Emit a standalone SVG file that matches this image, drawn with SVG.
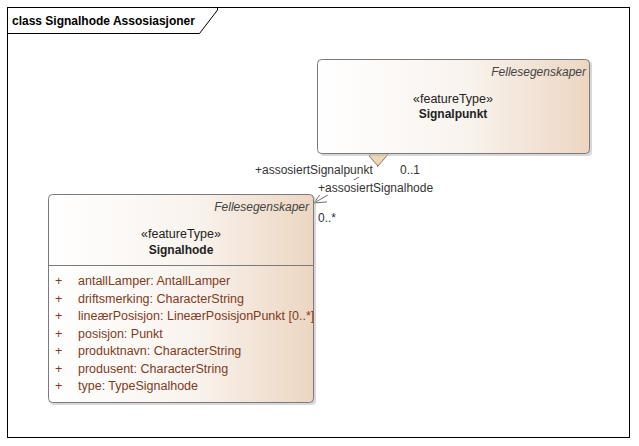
<svg xmlns="http://www.w3.org/2000/svg" width="639" height="446" viewBox="0 0 639 446">
<style>
text{font-family:"Liberation Sans",Arial,sans-serif;font-size:12px;fill:#333}
.title{font-weight:bold;fill:#000}
.ital{font-style:italic;fill:#444}
.stereo{font-size:12.5px;fill:#222}
.name{font-weight:bold;fill:#222}
.attr{font-size:12.5px;fill:#7f3b1d}
.box{fill:url(#g);stroke:#7a7a7a;stroke-width:1}
.shadow{fill:#b8b8b8;opacity:0.55}
.conn{fill:none;stroke:#6e6e6e;stroke-width:1}
.lbl{font-size:12px;fill:#333}
.lblbg{fill:#fff}
</style>
<defs>
<linearGradient id="g" x1="0" y1="0" x2="1" y2="0">
<stop offset="0" stop-color="#ffffff"/>
<stop offset="0.55" stop-color="#f9f3ee"/>
<stop offset="1" stop-color="#ecd6c2"/>
</linearGradient>
</defs>
<rect x="0" y="0" width="639" height="446" fill="#fff"/>
<g id="frame">
<rect x="7.5" y="7.5" width="622" height="430" fill="#fff" stroke="#000" stroke-width="1"/>
<polyline points="7.5,33.5 199.5,33.5 217.5,10 217.5,7.5" fill="none" stroke="#000" stroke-width="1"/>
<text x="12" y="25" class="title">class Signalhode Assosiasjoner</text>
</g>
<g id="connectors">
<line class="conn" x1="378" y1="166" x2="314" y2="203"/>
<polyline class="conn" points="321.5,192.4 314,203 327,201.9"/>
<rect class="lblbg" x="253" y="162" width="124" height="15"/>
<rect class="lblbg" x="316" y="180" width="120" height="15"/>
<text class="lbl" x="255" y="174">+assosiertSignalpunkt</text>
<text class="lbl" x="400" y="174">0..1</text>
<text class="lbl" x="318" y="192">+assosiertSignalhode</text>
<text class="lbl" x="318" y="222">0..*</text>
<polygon points="382,142 369,156 378,166 390,152" fill="#f1d6b4" stroke="#7a7a7a" stroke-width="1"/>
</g>
<g id="Signalpunkt">
<rect class="shadow" x="320" y="61" width="272" height="95" rx="4"/>
<rect class="box" x="317.5" y="59.5" width="272" height="94" rx="4"/>
<text class="ital" x="586" y="76" text-anchor="end">Fellesegenskaper</text>
<text class="stereo" x="453" y="103" text-anchor="middle">«featureType»</text>
<text class="name" x="453" y="118" text-anchor="middle">Signalpunkt</text>
</g>
<g id="Signalhode">
<rect class="shadow" x="50" y="196" width="266" height="209" rx="4"/>
<rect class="box" x="48.5" y="194.5" width="265" height="208" rx="4"/>
<line x1="48.5" y1="265.5" x2="313.5" y2="265.5" stroke="#7a7a7a" stroke-width="1"/>
<text class="ital" x="309" y="211" text-anchor="end">Fellesegenskaper</text>
<text class="stereo" x="181" y="238" text-anchor="middle">«featureType»</text>
<text class="name" x="181" y="254" text-anchor="middle">Signalhode</text>
<text class="attr" x="55" y="285">+</text><text class="attr" x="78" y="285">antallLamper: AntallLamper</text>
<text class="attr" x="55" y="302.5">+</text><text class="attr" x="78" y="302.5">driftsmerking: CharacterString</text>
<text class="attr" x="55" y="320">+</text><text class="attr" x="78" y="320">lineærPosisjon: LineærPosisjonPunkt [0..*]</text>
<text class="attr" x="55" y="337.5">+</text><text class="attr" x="78" y="337.5">posisjon: Punkt</text>
<text class="attr" x="55" y="355">+</text><text class="attr" x="78" y="355">produktnavn: CharacterString</text>
<text class="attr" x="55" y="372.5">+</text><text class="attr" x="78" y="372.5">produsent: CharacterString</text>
<text class="attr" x="55" y="390">+</text><text class="attr" x="78" y="390">type: TypeSignalhode</text>
</g>
</svg>
